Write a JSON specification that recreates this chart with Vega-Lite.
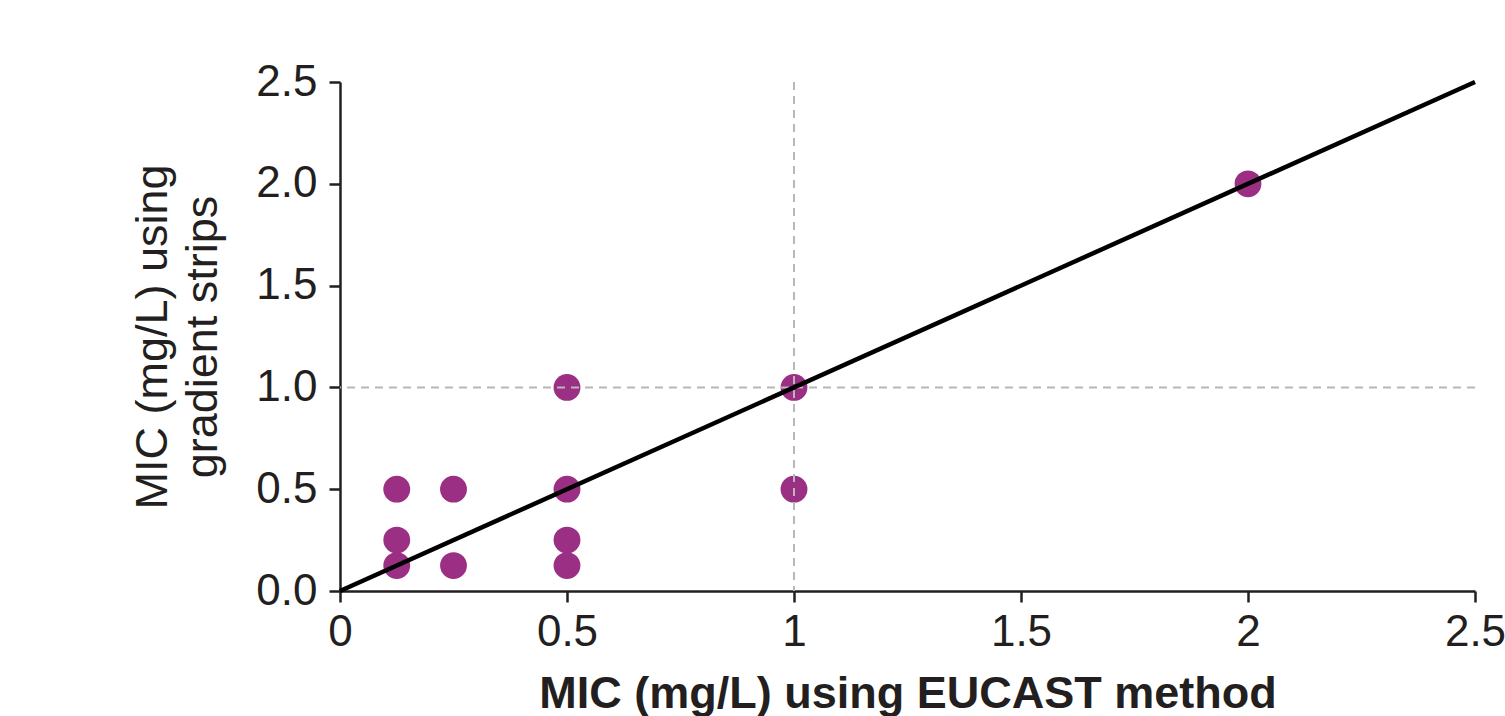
{
  "$schema": "https://vega.github.io/schema/vega-lite/v6.json",
  "width": 1135,
  "height": 509,
  "autosize": {"type": "none"},
  "padding": {"left": 340, "top": 82, "right": 30, "bottom": 125},
  "background": "white",
  "config": {
    "view": {"stroke": null},
    "font": "Liberation Sans",
    "axis": {
      "grid": false,
      "domainColor": "#231f20",
      "domainWidth": 2.5,
      "tickColor": "#231f20",
      "tickWidth": 2.5,
      "tickSize": 11,
      "labelColor": "#231f20",
      "labelFontSize": 44,
      "labelFont": "Liberation Sans",
      "titleFont": "Liberation Sans",
      "titleColor": "#231f20",
      "titleFontSize": 45,
      "labelFlush": false,
      "labelOverlap": false,
      "labelBound": false
    }
  },
  "layer": [
    {
      "data": {
        "values": [
          {"eucast": 0.125, "strip": 0.5},
          {"eucast": 0.125, "strip": 0.25},
          {"eucast": 0.125, "strip": 0.125},
          {"eucast": 0.25, "strip": 0.5},
          {"eucast": 0.25, "strip": 0.125},
          {"eucast": 0.5, "strip": 1.0},
          {"eucast": 0.5, "strip": 0.5},
          {"eucast": 0.5, "strip": 0.25},
          {"eucast": 0.5, "strip": 0.125},
          {"eucast": 1.0, "strip": 1.0},
          {"eucast": 1.0, "strip": 0.5},
          {"eucast": 2.0, "strip": 2.0}
        ]
      },
      "mark": {"type": "circle", "size": 720, "opacity": 1, "color": "#9a2f83"},
      "encoding": {
        "x": {
          "field": "eucast",
          "type": "quantitative",
          "scale": {"domain": [0, 2.5], "nice": false, "zero": true},
          "axis": {
            "values": [0, 0.5, 1, 1.5, 2, 2.5],
            "format": "~g",
            "labelPadding": 8,
            "title": "MIC (mg/L) using EUCAST method",
            "titleFontWeight": "bold",
            "titlePadding": 17
          }
        },
        "y": {
          "field": "strip",
          "type": "quantitative",
          "scale": {"domain": [0, 2.5], "nice": false, "zero": true},
          "axis": {
            "values": [0, 0.5, 1, 1.5, 2, 2.5],
            "format": ".1f",
            "labelPadding": 12,
            "title": ["MIC (mg/L) using", "gradient strips"],
            "titleFontWeight": "normal",
            "titleLineHeight": 50,
            "titlePadding": 30
          }
        }
      }
    },
    {
      "data": {"values": [{"v": 1}]},
      "mark": {"type": "rule", "color": "#b8b8b8", "strokeWidth": 2, "strokeDash": [8, 6]},
      "encoding": {"x": {"field": "v", "type": "quantitative"}}
    },
    {
      "data": {"values": [{"v": 1}]},
      "mark": {"type": "rule", "color": "#b8b8b8", "strokeWidth": 2, "strokeDash": [8, 6]},
      "encoding": {"y": {"field": "v", "type": "quantitative"}}
    },
    {
      "data": {"values": [{"a": 0, "b": 0}, {"a": 2.5, "b": 2.5}]},
      "mark": {"type": "line", "color": "#000000", "strokeWidth": 4.5},
      "encoding": {
        "x": {"field": "a", "type": "quantitative"},
        "y": {"field": "b", "type": "quantitative"}
      }
    }
  ]
}
